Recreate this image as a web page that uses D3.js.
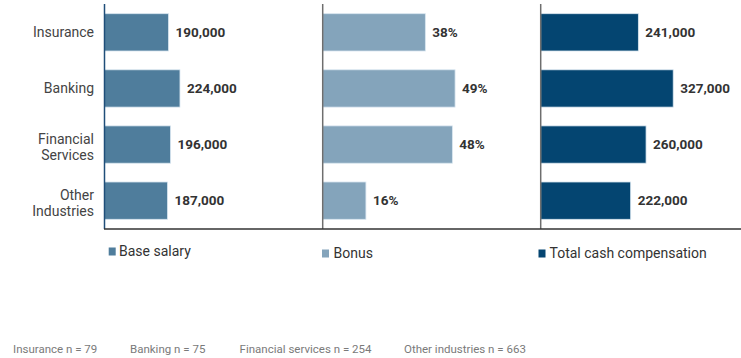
<!DOCTYPE html>
<html>
<head>
<meta charset="utf-8">
<script src="https://cdn.jsdelivr.net/npm/d3@7/dist/d3.min.js"></script>
<style>
  html, body { margin: 0; padding: 0; background: #fff; }
  svg { display: block; font-family: Roboto, "Noto Sans", sans-serif; }
</style>
</head>
<body>
<svg id="chart" width="741" height="358"></svg>
<script>
// Industry categories (label lines)
const categories = ["Insurance", "Banking", "Financial Services", "Other Industries"];
const categoryLines = [["Insurance"], ["Banking"], ["Financial", "Services"], ["Other", "Industries"]];

// Series values per category
const baseSalary = [190000, 224000, 196000, 187000];
const bonusPct = [38, 49, 48, 16];
const totalCash = [241000, 327000, 260000, 222000];

// Series names and sample sizes
const seriesNames = ["Base salary", "Bonus", "Total cash compensation"];
const sampleNotes = ["Insurance n = 79", "Banking n = 75", "Financial services n = 254", "Other industries n = 663"];

const colors = ["#4f7d9c", "#84a4bb", "#044571"];

const svg = d3.select("#chart");

const plotTop = 4, plotBottom = 229;
const y = d3.scaleBand()
  .domain(categories)
  .range([plotTop, plotBottom])
  .paddingInner(0.335)
  .paddingOuter(0.173);

const panelWidth = 218;
const panels = [
  { values: baseSalary, x0: 104.5, max: 647000, fmt: d3.format(","), axisColor: "#1f4e79" },
  { values: bonusPct,   x0: 322.7, max: 80.7,   fmt: d => d + "%",    axisColor: "#6e6e6e" },
  { values: totalCash,  x0: 540.7, max: 538000, fmt: d3.format(","), axisColor: "#6e6e6e" }
];

panels.forEach((p, i) => {
  const x = d3.scaleLinear().domain([0, p.max]).range([p.x0, p.x0 + panelWidth]);
  const g = svg.append("g");

  g.selectAll("rect")
    .data(p.values)
    .join("rect")
    .attr("x", x(0))
    .attr("y", (d, j) => y(categories[j]))
    .attr("width", d => x(d) - x(0))
    .attr("height", y.bandwidth())
    .attr("fill", colors[i])
    .attr("stroke", "#d9e6f0")
    .attr("stroke-width", 0.8);

  g.selectAll("text.val")
    .data(p.values)
    .join("text")
    .attr("class", "val")
    .attr("x", d => x(d) + 7)
    .attr("y", (d, j) => y(categories[j]) + y.bandwidth() / 2)
    .attr("dy", "0.35em")
    .attr("font-size", "13.5px")
    .attr("font-weight", "bold")
    .attr("fill", "#333")
    .text(d => p.fmt(d));

  g.append("line")
    .attr("x1", x(0)).attr("x2", x(0))
    .attr("y1", plotTop).attr("y2", plotBottom)
    .attr("stroke", p.axisColor)
    .attr("stroke-width", 1.5);
});

// Baseline across all panels
svg.append("line")
  .attr("x1", 104).attr("x2", 741)
  .attr("y1", plotBottom).attr("y2", plotBottom)
  .attr("stroke", "#333")
  .attr("stroke-width", 1.5);

// Category axis on the left
const yAxis = svg.append("g")
  .attr("transform", "translate(104.5,0)")
  .call(d3.axisLeft(y).tickSize(0).tickPadding(10));
yAxis.select(".domain").remove();
yAxis.selectAll(".tick text").each(function(d) {
  const lines = categoryLines[categories.indexOf(d)];
  const t = d3.select(this)
    .attr("font-size", "14px")
    .attr("font-family", "Roboto, sans-serif")
    .attr("fill", "#444")
    .attr("dy", null)
    .text(null);
  const lh = 16.5;
  lines.forEach((ln, k) => {
    t.append("tspan")
      .attr("x", -10.5)
      .attr("dy", k === 0 ? (5 - (lines.length - 1) * lh / 2 + (lines.length - 1) * 2.5) + "px" : lh + "px")
      .text(ln);
  });
});

// Legend
const legendX = [108.7, 322, 538.5];
const legendTextX = [119, 333.5, 549.5];
const legendY = [251, 253, 253];
seriesNames.forEach((name, i) => {
  svg.append("rect")
    .attr("x", legendX[i]).attr("y", legendY[i] - 3.5)
    .attr("width", 7).attr("height", 8)
    .attr("fill", colors[i]);
  svg.append("text")
    .attr("x", legendTextX[i]).attr("y", legendY[i])
    .attr("dy", "0.35em")
    .attr("font-size", "14px")
    .attr("fill", "#333")
    .text(name);
});

// Sample size notes
const noteX = [13, 130, 239.6, 404];
sampleNotes.forEach((n, i) => {
  svg.append("text")
    .attr("x", noteX[i]).attr("y", 348.5)
    .attr("dy", "0.35em")
    .attr("font-size", "11.5px")
    .attr("fill", "#7a7a7a")
    .text(n);
});
</script>
</body>
</html>
